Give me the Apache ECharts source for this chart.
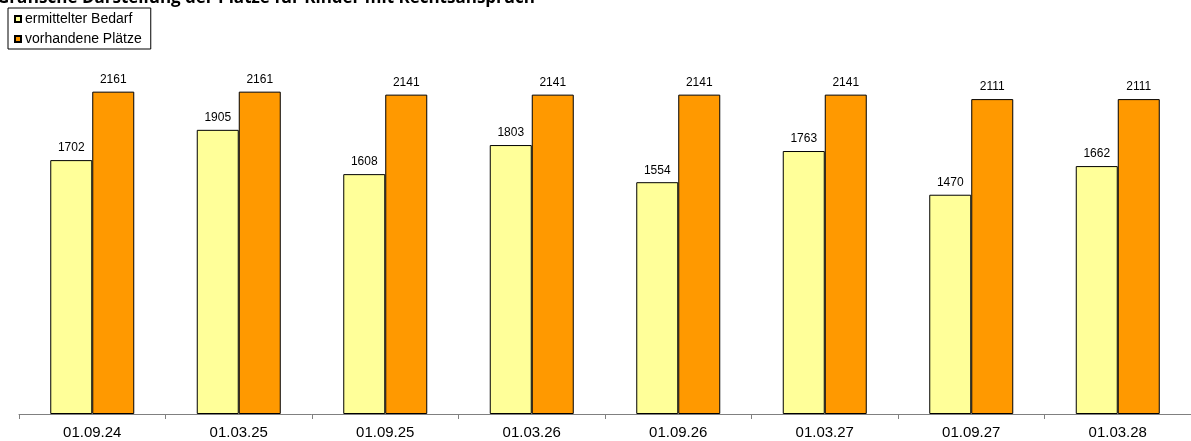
<!DOCTYPE html>
<html>
<head>
<meta charset="utf-8">
<script src="https://cdn.jsdelivr.net/npm/echarts@6/dist/echarts.min.js"></script>
<style>
	html, body { margin: 0; padding: 0; background: #fff; }
	#chart { width: 1191px; height: 441px; }
</style>
</head>
<body>
<div id="chart"></div>
<script>
let categories = ["01.09.24", "01.03.25", "01.09.25", "01.03.26", "01.09.26", "01.03.27", "01.09.27", "01.03.28"];
let bedarf = [1702, 1905, 1608, 1803, 1554, 1763, 1470, 1662];
let plaetze = [2161, 2161, 2141, 2141, 2141, 2141, 2111, 2111];

let chart = echarts.init(document.getElementById("chart"));
chart.setOption({
	animation: false,
	title: {
		text: "Grafische Darstellung der Plätze für Kinder mit Rechtsanspruch",
		left: -8,
		top: -15,
		textStyle: {
			fontFamily: "Open Sans",
			fontWeight: "bold",
			fontSize: 17,
			color: "#000",
		},
	},
	legend: {
		orient: "vertical",
		left: 8,
		top: 8,
		backgroundColor: "#fff",
		borderColor: "#000",
		borderWidth: 1,
		borderRadius: 0,
		padding: [4, 9, 3, 6],
		itemGap: 6,
		itemWidth: 6,
		itemHeight: 6,
		icon: "rect",
		textStyle: {
			fontFamily: "Liberation Sans",
			fontSize: 14,
			lineHeight: 14,
			color: "#000",
			padding: [0, 0, 0, -1],
		},
		data: ["ermittelter Bedarf", "vorhandene Plätze"],
	},
	grid: {
		left: 19,
		top: 56,
		width: 1178,
		bottom: 27,
	},
	xAxis: {
		type: "category",
		data: categories,
		axisLine: { lineStyle: { color: "#808080", width: 1 } },
		axisTick: { show: true, length: 5, lineStyle: { color: "#808080" } },
		axisLabel: {
			fontFamily: "Liberation Sans",
			fontSize: 15,
			color: "#000",
			margin: 11,
		},
	},
	yAxis: {
		type: "value",
		min: 0,
		max: 2400,
		show: false,
		splitLine: { show: false },
	},
	series: [
		{
			name: "ermittelter Bedarf",
			type: "bar",
			data: bedarf,
			barWidth: 42,
			barGap: "0%",
			itemStyle: { color: "#FFFF99", borderColor: "#000", borderWidth: 1 },
			label: {
				show: true,
				position: "top",
				distance: 6,
				fontFamily: "Liberation Sans",
				fontSize: 12,
				color: "#000",
			},
		},
		{
			name: "vorhandene Plätze",
			type: "bar",
			data: plaetze,
			barWidth: 42,
			itemStyle: { color: "#FF9900", borderColor: "#000", borderWidth: 1 },
			label: {
				show: true,
				position: "top",
				distance: 6,
				fontFamily: "Liberation Sans",
				fontSize: 12,
				color: "#000",
			},
		},
	],
});
</script>
</body>
</html>
